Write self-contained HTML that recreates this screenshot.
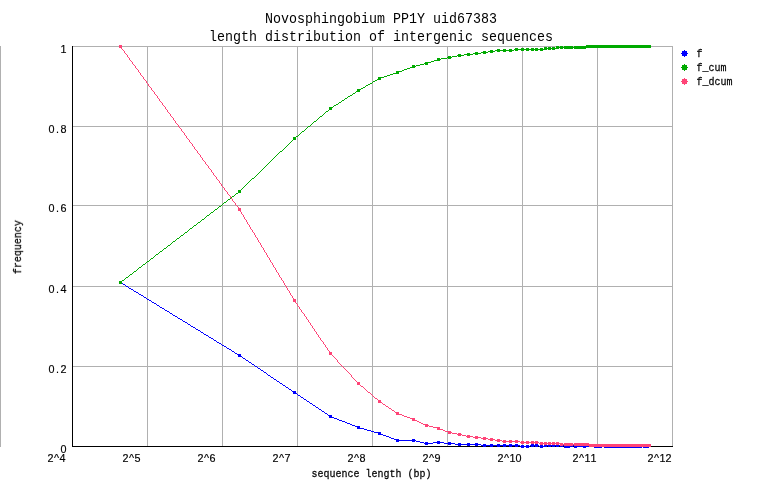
<!DOCTYPE html>
<html><head><meta charset="utf-8"><title>length distribution</title>
<style>
html,body{margin:0;padding:0;background:#fff;}
svg{display:block}
text{font-family:"Liberation Mono",monospace;fill:#000;stroke:#000;stroke-width:0.25px;}
.tx{opacity:0.999;}
.s{font-size:12px;}
.l{font-size:11.5px;}
.d{font-family:"Liberation Sans",sans-serif;font-size:11.5px;stroke-width:0.18px;}
.t{font-size:15px;stroke:none;}
</style></head><body>
<svg width="762" height="498" viewBox="0 0 762 498">
<rect x="0" y="0" width="762" height="498" fill="#ffffff"/>
<g shape-rendering="crispEdges">
<rect x="0" y="46" width="1" height="401" fill="#b0b0b0"/>
<rect x="147" y="46" width="1" height="400" fill="#b0b0b0"/>
<rect x="222" y="46" width="1" height="400" fill="#b0b0b0"/>
<rect x="297" y="46" width="1" height="400" fill="#b0b0b0"/>
<rect x="372" y="46" width="1" height="400" fill="#b0b0b0"/>
<rect x="447" y="46" width="1" height="400" fill="#b0b0b0"/>
<rect x="522" y="46" width="1" height="400" fill="#b0b0b0"/>
<rect x="597" y="46" width="1" height="400" fill="#b0b0b0"/>
<rect x="672" y="46" width="1" height="400" fill="#b0b0b0"/>
<rect x="73" y="46" width="600" height="1" fill="#b0b0b0"/>
<rect x="73" y="126" width="600" height="1" fill="#b0b0b0"/>
<rect x="73" y="205" width="600" height="1" fill="#b0b0b0"/>
<rect x="73" y="286" width="600" height="1" fill="#b0b0b0"/>
<rect x="73" y="366" width="600" height="1" fill="#b0b0b0"/>
<rect x="72" y="46" width="1" height="401" fill="#000"/>
<rect x="72" y="446" width="601" height="1" fill="#000"/>
<path d="M119,281h3v1h-3zM119,282h3v1h-3zM119,283h4v1h-4zM123,284h2v1h-2zM125,285h1v1h-1zM126,286h2v1h-2zM128,287h1v1h-1zM129,288h2v1h-2zM131,289h2v1h-2zM133,290h1v1h-1zM134,291h2v1h-2zM136,292h2v1h-2zM138,293h1v1h-1zM139,294h2v1h-2zM141,295h2v1h-2zM143,296h1v1h-1zM144,297h2v1h-2zM146,298h1v1h-1zM147,299h2v1h-2zM149,300h2v1h-2zM151,301h1v1h-1zM152,302h2v1h-2zM154,303h2v1h-2zM156,304h1v1h-1zM157,305h2v1h-2zM159,306h1v1h-1zM160,307h2v1h-2zM162,308h2v1h-2zM164,309h1v1h-1zM165,310h2v1h-2zM167,311h2v1h-2zM169,312h1v1h-1zM170,313h2v1h-2zM172,314h1v1h-1zM173,315h2v1h-2zM175,316h2v1h-2zM177,317h1v1h-1zM178,318h2v1h-2zM180,319h2v1h-2zM182,320h1v1h-1zM183,321h2v1h-2zM185,322h2v1h-2zM187,323h1v1h-1zM188,324h2v1h-2zM190,325h1v1h-1zM191,326h2v1h-2zM193,327h2v1h-2zM195,328h1v1h-1zM196,329h2v1h-2zM198,330h2v1h-2zM200,331h1v1h-1zM201,332h2v1h-2zM203,333h1v1h-1zM204,334h2v1h-2zM206,335h2v1h-2zM208,336h1v1h-1zM209,337h2v1h-2zM211,338h2v1h-2zM213,339h1v1h-1zM214,340h2v1h-2zM216,341h1v1h-1zM217,342h2v1h-2zM219,343h2v1h-2zM221,344h1v1h-1zM222,345h2v1h-2zM224,346h2v1h-2zM226,347h1v1h-1zM227,348h2v1h-2zM229,349h2v1h-2zM231,350h1v1h-1zM232,351h2v1h-2zM234,352h1v1h-1zM235,353h2v1h-2zM237,354h4v1h-4zM238,355h3v1h-3zM238,356h4v1h-4zM242,357h1v1h-1zM243,358h2v1h-2zM245,359h1v1h-1zM246,360h2v1h-2zM248,361h1v1h-1zM249,362h2v1h-2zM251,363h1v1h-1zM252,364h2v1h-2zM254,365h1v1h-1zM255,366h2v1h-2zM257,367h1v1h-1zM258,368h2v1h-2zM260,369h1v1h-1zM261,370h2v1h-2zM263,371h1v1h-1zM264,372h2v1h-2zM266,373h1v1h-1zM267,374h1v1h-1zM268,375h2v1h-2zM270,376h1v1h-1zM271,377h2v1h-2zM273,378h1v1h-1zM274,379h2v1h-2zM276,380h1v1h-1zM277,381h2v1h-2zM279,382h1v1h-1zM280,383h2v1h-2zM282,384h1v1h-1zM283,385h2v1h-2zM285,386h1v1h-1zM286,387h2v1h-2zM288,388h1v1h-1zM289,389h2v1h-2zM291,390h1v1h-1zM292,391h4v1h-4zM293,392h3v1h-3zM293,393h4v1h-4zM297,394h1v1h-1zM298,395h2v1h-2zM300,396h1v1h-1zM301,397h2v1h-2zM303,398h1v1h-1zM304,399h2v1h-2zM306,400h1v1h-1zM307,401h2v1h-2zM309,402h1v1h-1zM310,403h2v1h-2zM312,404h1v1h-1zM313,405h2v1h-2zM315,406h1v1h-1zM316,407h2v1h-2zM318,408h1v1h-1zM319,409h2v1h-2zM321,410h1v1h-1zM322,411h2v1h-2zM324,412h1v1h-1zM325,413h2v1h-2zM327,414h1v1h-1zM328,415h4v1h-4zM329,416h3v1h-3zM329,417h5v1h-5zM334,418h3v1h-3zM337,419h2v1h-2zM339,420h3v1h-3zM342,421h3v1h-3zM345,422h2v1h-2zM347,423h3v1h-3zM350,424h2v1h-2zM352,425h3v1h-3zM355,426h5v1h-5zM357,427h3v1h-3zM357,428h7v1h-7zM364,429h3v1h-3zM367,430h4v1h-4zM371,431h3v1h-3zM374,432h7v1h-7zM378,433h3v1h-3zM378,434h5v1h-5zM383,435h3v1h-3zM386,436h3v1h-3zM389,437h2v1h-2zM391,438h3v1h-3zM394,439h5v1h-5zM396,440h20v1h-20zM396,441h3v1h-3zM412,439h3v1h-3zM412,441h3v1h-3zM416,441h4v1h-4zM420,442h4v1h-4zM424,443h9v1h-9zM425,442h3v1h-3zM425,444h3v1h-3zM433,442h11v1h-11zM437,441h3v1h-3zM437,443h3v1h-3zM444,443h11v1h-11zM448,442h3v1h-3zM448,444h3v1h-3zM455,444h26v1h-26zM458,443h3v1h-3zM458,445h3v1h-3zM467,443h3v1h-3zM467,445h3v1h-3zM475,443h3v1h-3zM475,445h3v1h-3zM481,445h39v1h-39zM483,444h3v1h-3zM483,446h3v1h-3zM490,444h3v1h-3zM490,446h3v1h-3zM497,444h3v1h-3zM497,446h3v1h-3zM503,444h3v1h-3zM503,446h3v1h-3zM509,444h3v1h-3zM509,446h3v1h-3zM515,444h3v1h-3zM515,446h3v1h-3zM520,446h10v1h-10zM521,445h3v1h-3zM521,447h3v1h-3zM526,445h3v1h-3zM526,447h3v1h-3zM530,445h9v1h-9zM531,444h3v1h-3zM531,446h3v1h-3zM535,444h3v1h-3zM535,446h3v1h-3zM539,446h8v1h-8zM540,445h3v1h-3zM540,447h3v1h-3zM544,444h3v1h-3zM544,445h105v1h-105zM548,444h3v1h-3zM548,446h3v1h-3zM552,444h3v1h-3zM552,446h3v1h-3zM556,444h3v1h-3zM556,446h3v1h-3zM560,444h3v1h-3zM560,446h3v1h-3zM564,446h9v1h-9zM564,447h6v1h-6zM570,444h3v1h-3zM574,446h75v1h-75zM574,447h3v1h-3zM577,444h6v1h-6zM583,447h3v1h-3zM586,444h9v1h-9zM594,447h8v1h-8zM602,444h3v1h-3zM604,447h38v1h-38zM641,444h3v1h-3zM643,447h6v1h-6z" fill="#0000ff"/>
<path d="M119,281h3v1h-3zM119,282h3v1h-3zM119,283h3v1h-3zM122,280h2v1h-2zM124,279h1v1h-1zM125,278h1v1h-1zM126,277h2v1h-2zM128,276h1v1h-1zM129,275h1v1h-1zM130,274h2v1h-2zM132,273h1v1h-1zM133,272h1v1h-1zM134,271h2v1h-2zM136,270h1v1h-1zM137,269h1v1h-1zM138,268h1v1h-1zM139,267h2v1h-2zM141,266h1v1h-1zM142,265h1v1h-1zM143,264h2v1h-2zM145,263h1v1h-1zM146,262h1v1h-1zM147,261h2v1h-2zM149,260h1v1h-1zM150,259h1v1h-1zM151,258h2v1h-2zM153,257h1v1h-1zM154,256h1v1h-1zM155,255h1v1h-1zM156,254h2v1h-2zM158,253h1v1h-1zM159,252h1v1h-1zM160,251h2v1h-2zM162,250h1v1h-1zM163,249h1v1h-1zM164,248h2v1h-2zM166,247h1v1h-1zM167,246h1v1h-1zM168,245h2v1h-2zM170,244h1v1h-1zM171,243h1v1h-1zM172,242h1v1h-1zM173,241h2v1h-2zM175,240h1v1h-1zM176,239h1v1h-1zM177,238h2v1h-2zM179,237h1v1h-1zM180,236h1v1h-1zM181,235h2v1h-2zM183,234h1v1h-1zM184,233h1v1h-1zM185,232h2v1h-2zM187,231h1v1h-1zM188,230h1v1h-1zM189,229h1v1h-1zM190,228h2v1h-2zM192,227h1v1h-1zM193,226h1v1h-1zM194,225h2v1h-2zM196,224h1v1h-1zM197,223h1v1h-1zM198,222h2v1h-2zM200,221h1v1h-1zM201,220h1v1h-1zM202,219h2v1h-2zM204,218h1v1h-1zM205,217h1v1h-1zM206,216h1v1h-1zM207,215h2v1h-2zM209,214h1v1h-1zM210,213h1v1h-1zM211,212h2v1h-2zM213,211h1v1h-1zM214,210h1v1h-1zM215,209h2v1h-2zM217,208h1v1h-1zM218,207h1v1h-1zM219,206h2v1h-2zM221,205h1v1h-1zM222,204h1v1h-1zM223,203h1v1h-1zM224,202h2v1h-2zM226,201h1v1h-1zM227,200h1v1h-1zM228,199h2v1h-2zM230,198h1v1h-1zM231,197h1v1h-1zM232,196h2v1h-2zM234,195h1v1h-1zM235,194h1v1h-1zM236,193h2v1h-2zM238,190h3v1h-3zM238,191h3v1h-3zM238,192h3v1h-3zM241,189h1v1h-1zM242,188h1v1h-1zM243,187h1v1h-1zM244,186h1v1h-1zM245,185h1v1h-1zM246,184h1v1h-1zM247,183h1v1h-1zM248,182h1v1h-1zM249,181h1v1h-1zM250,180h1v1h-1zM251,179h1v1h-1zM252,178h2v1h-2zM254,177h1v1h-1zM255,176h1v1h-1zM256,175h1v1h-1zM257,174h1v1h-1zM258,173h1v1h-1zM259,172h1v1h-1zM260,171h1v1h-1zM261,170h1v1h-1zM262,169h1v1h-1zM263,168h1v1h-1zM264,167h1v1h-1zM265,166h1v1h-1zM266,165h1v1h-1zM267,164h1v1h-1zM268,163h1v1h-1zM269,162h1v1h-1zM270,161h1v1h-1zM271,160h1v1h-1zM272,159h1v1h-1zM273,158h1v1h-1zM274,157h1v1h-1zM275,156h1v1h-1zM276,155h1v1h-1zM277,154h1v1h-1zM278,153h1v1h-1zM279,152h1v1h-1zM280,151h2v1h-2zM282,150h1v1h-1zM283,149h1v1h-1zM284,148h1v1h-1zM285,147h1v1h-1zM286,146h1v1h-1zM287,145h1v1h-1zM288,144h1v1h-1zM289,143h1v1h-1zM290,142h1v1h-1zM291,141h1v1h-1zM292,140h1v1h-1zM293,137h3v1h-3zM293,138h3v1h-3zM293,139h3v1h-3zM296,136h2v1h-2zM298,135h1v1h-1zM299,134h1v1h-1zM300,133h1v1h-1zM301,132h1v1h-1zM302,131h2v1h-2zM304,130h1v1h-1zM305,129h1v1h-1zM306,128h1v1h-1zM307,127h1v1h-1zM308,126h2v1h-2zM310,125h1v1h-1zM311,124h1v1h-1zM312,123h1v1h-1zM313,122h1v1h-1zM314,121h2v1h-2zM316,120h1v1h-1zM317,119h1v1h-1zM318,118h1v1h-1zM319,117h1v1h-1zM320,116h2v1h-2zM322,115h1v1h-1zM323,114h1v1h-1zM324,113h1v1h-1zM325,112h1v1h-1zM326,111h2v1h-2zM328,110h1v1h-1zM329,107h4v1h-4zM329,108h3v1h-3zM329,109h3v1h-3zM333,106h1v1h-1zM334,105h2v1h-2zM336,104h2v1h-2zM338,103h1v1h-1zM339,102h2v1h-2zM341,101h1v1h-1zM342,100h2v1h-2zM344,99h1v1h-1zM345,98h2v1h-2zM347,97h1v1h-1zM348,96h2v1h-2zM350,95h2v1h-2zM352,94h1v1h-1zM353,93h2v1h-2zM355,92h1v1h-1zM356,91h4v1h-4zM357,89h4v1h-4zM357,90h3v1h-3zM361,88h2v1h-2zM363,87h2v1h-2zM365,86h1v1h-1zM366,85h2v1h-2zM368,84h2v1h-2zM370,83h2v1h-2zM372,82h1v1h-1zM373,81h2v1h-2zM375,80h2v1h-2zM377,79h4v1h-4zM378,77h6v1h-6zM378,78h3v1h-3zM384,76h3v1h-3zM387,75h3v1h-3zM390,74h3v1h-3zM393,73h6v1h-6zM396,71h6v1h-6zM396,72h3v1h-3zM402,70h2v1h-2zM404,69h3v1h-3zM407,68h3v1h-3zM410,67h5v1h-5zM412,65h3v1h-3zM412,66h4v1h-4zM416,65h4v1h-4zM420,64h4v1h-4zM424,63h4v1h-4zM425,62h6v1h-6zM425,64h3v1h-3zM431,61h3v1h-3zM434,60h6v1h-6zM437,58h3v1h-3zM437,59h4v1h-4zM441,58h6v1h-6zM447,57h5v1h-5zM448,56h3v1h-3zM448,58h3v1h-3zM452,56h5v1h-5zM457,55h7v1h-7zM458,54h3v1h-3zM458,56h3v1h-3zM464,54h9v1h-9zM467,53h3v1h-3zM467,55h3v1h-3zM473,53h8v1h-8zM475,52h3v1h-3zM475,54h3v1h-3zM481,52h7v1h-7zM483,51h3v1h-3zM483,53h3v1h-3zM488,51h7v1h-7zM490,50h3v1h-3zM490,52h3v1h-3zM495,50h19v1h-19zM497,49h3v1h-3zM497,51h3v1h-3zM503,49h3v1h-3zM503,51h3v1h-3zM509,49h3v1h-3zM509,51h3v1h-3zM514,49h33v1h-33zM515,48h3v1h-3zM515,50h3v1h-3zM521,48h3v1h-3zM521,50h3v1h-3zM526,48h3v1h-3zM526,50h3v1h-3zM531,48h3v1h-3zM531,50h3v1h-3zM535,48h3v1h-3zM535,50h3v1h-3zM540,48h3v1h-3zM540,50h3v1h-3zM544,47h3v1h-3zM544,48h15v1h-15zM548,47h3v1h-3zM548,49h3v1h-3zM552,47h3v1h-3zM552,49h3v1h-3zM556,46h3v1h-3zM556,47h95v1h-95zM560,46h3v1h-3zM560,48h3v1h-3zM564,46h9v1h-9zM564,48h9v1h-9zM574,46h77v1h-77zM574,48h12v1h-12zM586,45h65v1h-65z" fill="#00aa00"/>
<path d="M119,45h3v1h-3zM119,46h3v1h-3zM119,47h3v1h-3zM121,48h1v1h-1zM122,49h1v1h-1zM123,50h1v1h-1zM124,51h1v2h-1zM125,53h1v1h-1zM126,54h1v1h-1zM127,55h1v2h-1zM128,57h1v1h-1zM129,58h1v2h-1zM130,60h1v1h-1zM131,61h1v1h-1zM132,62h1v2h-1zM133,64h1v1h-1zM134,65h1v1h-1zM135,66h1v2h-1zM136,68h1v1h-1zM137,69h1v1h-1zM138,70h1v2h-1zM139,72h1v1h-1zM140,73h1v2h-1zM141,75h1v1h-1zM142,76h1v1h-1zM143,77h1v2h-1zM144,79h1v1h-1zM145,80h1v1h-1zM146,81h1v2h-1zM147,83h1v1h-1zM148,84h1v2h-1zM149,86h1v1h-1zM150,87h1v1h-1zM151,88h1v2h-1zM152,90h1v1h-1zM153,91h1v1h-1zM154,92h1v2h-1zM155,94h1v1h-1zM156,95h1v1h-1zM157,96h1v2h-1zM158,98h1v1h-1zM159,99h1v2h-1zM160,101h1v1h-1zM161,102h1v1h-1zM162,103h1v2h-1zM163,105h1v1h-1zM164,106h1v1h-1zM165,107h1v2h-1zM166,109h1v1h-1zM167,110h1v2h-1zM168,112h1v1h-1zM169,113h1v1h-1zM170,114h1v2h-1zM171,116h1v1h-1zM172,117h1v1h-1zM173,118h1v2h-1zM174,120h1v1h-1zM175,121h1v2h-1zM176,123h1v1h-1zM177,124h1v1h-1zM178,125h1v2h-1zM179,127h1v1h-1zM180,128h1v1h-1zM181,129h1v2h-1zM182,131h1v1h-1zM183,132h1v1h-1zM184,133h1v2h-1zM185,135h1v1h-1zM186,136h1v2h-1zM187,138h1v1h-1zM188,139h1v1h-1zM189,140h1v2h-1zM190,142h1v1h-1zM191,143h1v1h-1zM192,144h1v2h-1zM193,146h1v1h-1zM194,147h1v2h-1zM195,149h1v1h-1zM196,150h1v1h-1zM197,151h1v2h-1zM198,153h1v1h-1zM199,154h1v1h-1zM200,155h1v2h-1zM201,157h1v1h-1zM202,158h1v2h-1zM203,160h1v1h-1zM204,161h1v1h-1zM205,162h1v2h-1zM206,164h1v1h-1zM207,165h1v1h-1zM208,166h1v2h-1zM209,168h1v1h-1zM210,169h1v1h-1zM211,170h1v2h-1zM212,172h1v1h-1zM213,173h1v2h-1zM214,175h1v1h-1zM215,176h1v1h-1zM216,177h1v2h-1zM217,179h1v1h-1zM218,180h1v1h-1zM219,181h1v2h-1zM220,183h1v1h-1zM221,184h1v2h-1zM222,186h1v1h-1zM223,187h1v1h-1zM224,188h1v2h-1zM225,190h1v1h-1zM226,191h1v1h-1zM227,192h1v2h-1zM228,194h1v1h-1zM229,195h1v1h-1zM230,196h1v2h-1zM231,198h1v1h-1zM232,199h1v2h-1zM233,201h1v1h-1zM234,202h1v1h-1zM235,203h1v2h-1zM236,205h1v1h-1zM237,206h1v1h-1zM238,207h1v1h-1zM238,208h3v1h-3zM238,209h3v1h-3zM238,210h3v1h-3zM240,211h1v1h-1zM241,212h1v2h-1zM242,214h1v1h-1zM243,215h1v2h-1zM244,217h1v2h-1zM245,219h1v1h-1zM246,220h1v2h-1zM247,222h1v2h-1zM248,224h1v1h-1zM249,225h1v2h-1zM250,227h1v2h-1zM251,229h1v1h-1zM252,230h1v2h-1zM253,232h1v1h-1zM254,233h1v2h-1zM255,235h1v2h-1zM256,237h1v1h-1zM257,238h1v2h-1zM258,240h1v2h-1zM259,242h1v1h-1zM260,243h1v2h-1zM261,245h1v2h-1zM262,247h1v1h-1zM263,248h1v2h-1zM264,250h1v2h-1zM265,252h1v1h-1zM266,253h1v2h-1zM267,255h1v2h-1zM268,257h1v1h-1zM269,258h1v2h-1zM270,260h1v2h-1zM271,262h1v1h-1zM272,263h1v2h-1zM273,265h1v2h-1zM274,267h1v1h-1zM275,268h1v2h-1zM276,270h1v2h-1zM277,272h1v1h-1zM278,273h1v2h-1zM279,275h1v2h-1zM280,277h1v1h-1zM281,278h1v2h-1zM282,280h1v1h-1zM283,281h1v2h-1zM284,283h1v2h-1zM285,285h1v1h-1zM286,286h1v2h-1zM287,288h1v2h-1zM288,290h1v1h-1zM289,291h1v2h-1zM290,293h1v2h-1zM291,295h1v1h-1zM292,296h1v2h-1zM293,298h1v1h-1zM293,299h3v1h-3zM293,300h3v1h-3zM293,301h3v1h-3zM295,302h1v1h-1zM296,303h1v1h-1zM297,304h1v2h-1zM298,306h1v1h-1zM299,307h1v2h-1zM300,309h1v1h-1zM301,310h1v2h-1zM302,312h1v1h-1zM303,313h1v1h-1zM304,314h1v2h-1zM305,316h1v1h-1zM306,317h1v2h-1zM307,319h1v1h-1zM308,320h1v2h-1zM309,322h1v1h-1zM310,323h1v2h-1zM311,325h1v1h-1zM312,326h1v2h-1zM313,328h1v1h-1zM314,329h1v2h-1zM315,331h1v1h-1zM316,332h1v2h-1zM317,334h1v1h-1zM318,335h1v2h-1zM319,337h1v1h-1zM320,338h1v2h-1zM321,340h1v1h-1zM322,341h1v1h-1zM323,342h1v2h-1zM324,344h1v1h-1zM325,345h1v2h-1zM326,347h1v1h-1zM327,348h1v2h-1zM328,350h1v1h-1zM329,351h1v1h-1zM329,352h3v1h-3zM329,353h3v1h-3zM329,354h3v1h-3zM332,355h1v1h-1zM333,356h1v1h-1zM334,357h1v1h-1zM335,358h1v1h-1zM336,359h1v1h-1zM337,360h1v2h-1zM338,362h1v1h-1zM339,363h1v1h-1zM340,364h1v1h-1zM341,365h1v1h-1zM342,366h1v1h-1zM343,367h1v1h-1zM344,368h1v1h-1zM345,369h1v1h-1zM346,370h1v1h-1zM347,371h1v1h-1zM348,372h1v1h-1zM349,373h1v1h-1zM350,374h1v1h-1zM351,375h1v2h-1zM352,377h1v1h-1zM353,378h1v1h-1zM354,379h1v1h-1zM355,380h1v1h-1zM356,381h1v1h-1zM357,382h3v1h-3zM357,383h3v1h-3zM357,384h3v1h-3zM360,385h1v1h-1zM361,386h2v1h-2zM363,387h1v1h-1zM364,388h1v1h-1zM365,389h1v1h-1zM366,390h1v1h-1zM367,391h1v1h-1zM368,392h2v1h-2zM370,393h1v1h-1zM371,394h1v1h-1zM372,395h1v1h-1zM373,396h1v1h-1zM374,397h1v1h-1zM375,398h2v1h-2zM377,399h1v1h-1zM378,400h3v1h-3zM378,401h3v1h-3zM378,402h4v1h-4zM382,403h1v1h-1zM383,404h2v1h-2zM385,405h1v1h-1zM386,406h2v1h-2zM388,407h1v1h-1zM389,408h2v1h-2zM391,409h1v1h-1zM392,410h2v1h-2zM394,411h1v1h-1zM395,412h4v1h-4zM396,413h3v1h-3zM396,414h6v1h-6zM402,415h2v1h-2zM404,416h3v1h-3zM407,417h3v1h-3zM410,418h5v1h-5zM412,419h3v1h-3zM412,420h5v1h-5zM417,421h2v1h-2zM419,422h2v1h-2zM421,423h2v1h-2zM423,424h5v1h-5zM425,425h4v1h-4zM425,426h3v1h-3zM429,426h4v1h-4zM433,427h7v1h-7zM437,428h3v1h-3zM437,429h6v1h-6zM443,430h2v1h-2zM445,431h6v1h-6zM448,432h4v1h-4zM448,433h3v1h-3zM452,433h5v1h-5zM457,434h5v1h-5zM458,433h3v1h-3zM458,435h3v1h-3zM462,435h4v1h-4zM466,436h7v1h-7zM467,435h3v1h-3zM467,437h3v1h-3zM473,437h8v1h-8zM475,436h3v1h-3zM475,438h3v1h-3zM481,438h7v1h-7zM483,437h3v1h-3zM483,439h3v1h-3zM488,439h7v1h-7zM490,438h3v1h-3zM490,440h3v1h-3zM495,440h7v1h-7zM497,439h3v1h-3zM497,441h3v1h-3zM502,441h18v1h-18zM503,440h3v1h-3zM503,442h3v1h-3zM509,440h3v1h-3zM509,442h3v1h-3zM515,440h3v1h-3zM515,442h3v1h-3zM520,442h19v1h-19zM521,441h3v1h-3zM521,443h3v1h-3zM526,441h3v1h-3zM526,443h3v1h-3zM531,441h3v1h-3zM531,443h3v1h-3zM535,441h3v1h-3zM535,443h3v1h-3zM539,443h24v1h-24zM540,442h3v1h-3zM540,444h3v1h-3zM544,442h3v1h-3zM544,444h3v1h-3zM548,442h3v1h-3zM548,444h3v1h-3zM552,442h3v1h-3zM552,444h3v1h-3zM556,442h3v1h-3zM556,444h3v1h-3zM560,444h91v1h-91zM560,445h3v1h-3zM564,443h9v1h-9zM564,445h9v1h-9zM574,443h15v1h-15zM574,445h77v1h-77zM589,446h62v1h-62z" fill="#ff4477"/>
</g>
<path d="M682,51.0h2v-1h1v1h2v2h1v1h-1v2h-2v1h-1v-1h-2v-2h-1v-1h1z" fill="#0000ff" shape-rendering="crispEdges"/>
<path d="M682,65.0h2v-1h1v1h2v2h1v1h-1v2h-2v1h-1v-1h-2v-2h-1v-1h1z" fill="#00aa00" shape-rendering="crispEdges"/>
<path d="M682,79.0h2v-1h1v1h2v2h1v1h-1v2h-2v1h-1v-1h-2v-2h-1v-1h1z" fill="#ff4477" shape-rendering="crispEdges"/>
<g class="tx">
<text class="l" transform="translate(696.5,57) scale(0.8695652173913043,1)" text-anchor="start">f</text>
<text class="l" transform="translate(696.5,71) scale(0.8695652173913043,1)" text-anchor="start">f_cum</text>
<text class="l" transform="translate(696.5,85) scale(0.8695652173913043,1)" text-anchor="start">f_dcum</text>
<text class="d" transform="translate(60.5,53) scale(0.94,1)" x="-0.01">1</text>
<text class="d" transform="translate(48.5,133) scale(0.94,1)" x="-0.01 7.98 12.76">0.8</text>
<text class="d" transform="translate(48.5,212) scale(0.94,1)" x="-0.01 7.98 12.76">0.6</text>
<text class="d" transform="translate(48.5,293) scale(0.94,1)" x="-0.01 7.98 12.76">0.4</text>
<text class="d" transform="translate(48.5,373) scale(0.94,1)" x="-0.01 7.98 12.76">0.2</text>
<text class="d" transform="translate(60.5,453) scale(0.94,1)" x="-0.01">0</text>
<text class="d" transform="translate(47.5,462) scale(0.94,1)" x="-0.01 6.88 12.76">2^4</text>
<text class="d" transform="translate(122.5,462) scale(0.94,1)" x="-0.01 6.88 12.76">2^5</text>
<text class="d" transform="translate(197.5,462) scale(0.94,1)" x="-0.01 6.88 12.76">2^6</text>
<text class="d" transform="translate(272.5,462) scale(0.94,1)" x="-0.01 6.88 12.76">2^7</text>
<text class="d" transform="translate(347.5,462) scale(0.94,1)" x="-0.01 6.88 12.76">2^8</text>
<text class="d" transform="translate(422.5,462) scale(0.94,1)" x="-0.01 6.88 12.76">2^9</text>
<text class="d" transform="translate(497.5,462) scale(0.94,1)" x="-0.01 6.88 12.76 19.14">2^10</text>
<text class="d" transform="translate(572.5,462) scale(0.94,1)" x="-0.01 6.88 12.76 19.14">2^11</text>
<text class="d" transform="translate(647.5,462) scale(0.94,1)" x="-0.01 6.88 12.76 19.14">2^12</text>
<text class="l" transform="translate(371.5,477) scale(0.8695652173913043,1)" text-anchor="middle">sequence length (bp)</text>
<text class="l" transform="translate(21,247) rotate(-90) scale(0.8695652173913043,1)" text-anchor="middle">frequency</text>
<text class="t" transform="translate(381,23) scale(0.8888888888888888,1)" text-anchor="middle">Novosphingobium PP1Y uid67383</text>
<text class="t" transform="translate(381,41) scale(0.8888888888888888,1)" text-anchor="middle">length distribution of intergenic sequences</text>
</g>
</svg>
</body></html>
